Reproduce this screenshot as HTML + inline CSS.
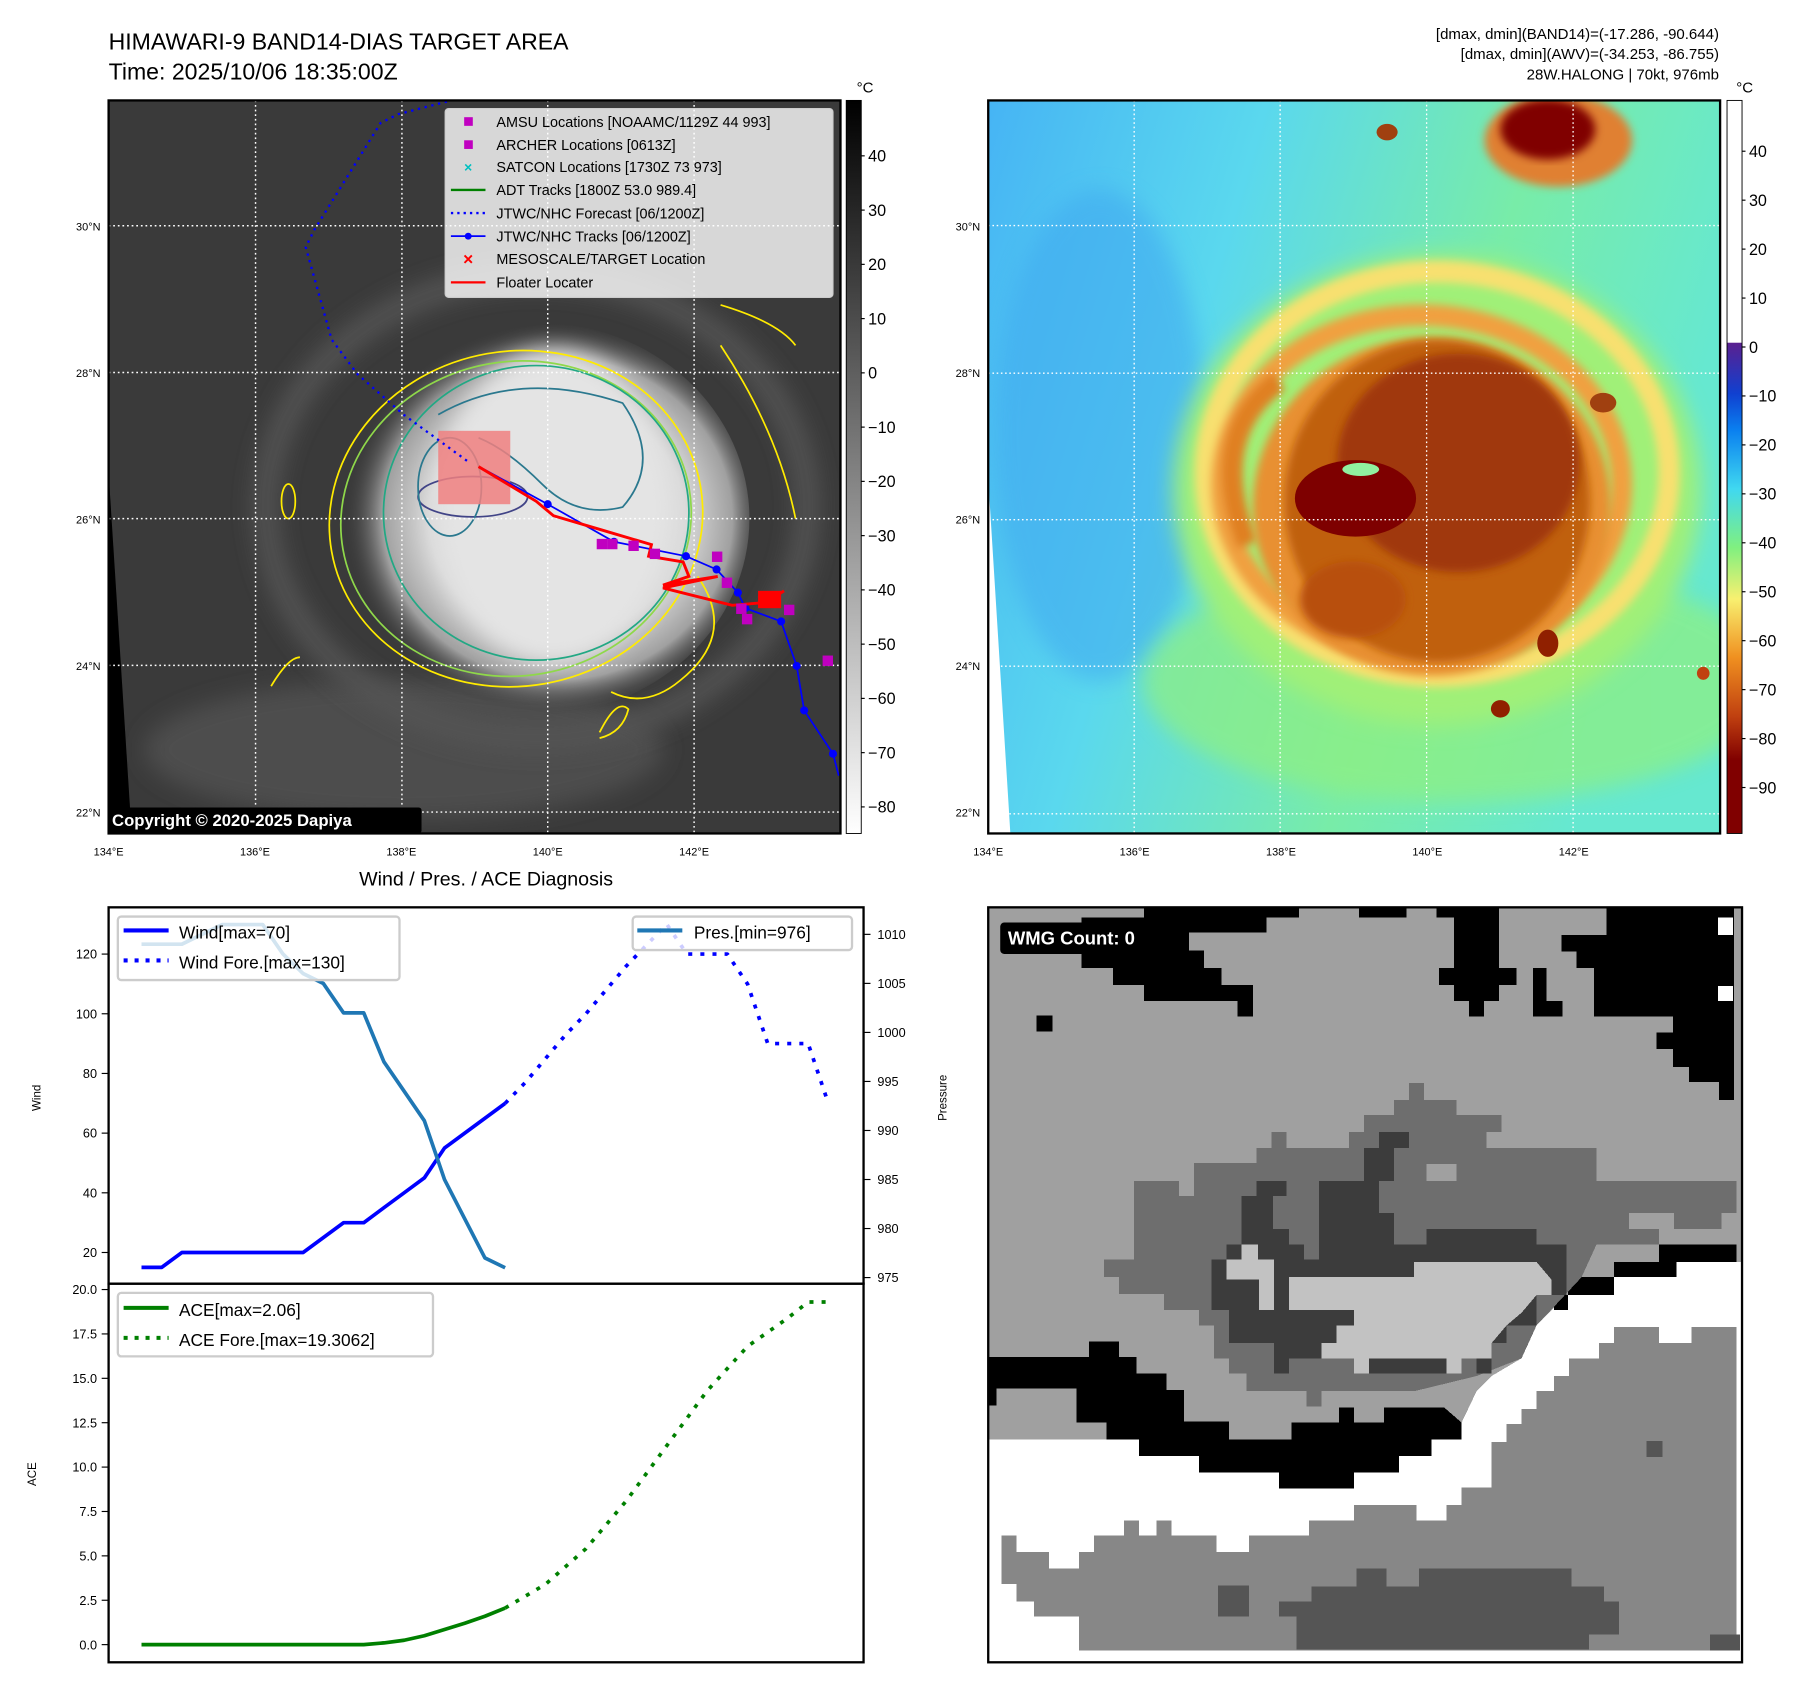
<!DOCTYPE html>
<html><head><meta charset="utf-8"><title>HIMAWARI-9 Diagnosis</title>
<style>
html,body{margin:0;padding:0;background:#fff;}
svg{display:block;font-family:"Liberation Sans","DejaVu Sans",sans-serif;}
</style></head>
<body>
<svg id="root" width="1801" height="1690" viewBox="0 0 1560 1464" xmlns="http://www.w3.org/2000/svg">
<defs>
  <radialGradient id="stormGray" cx="0.55" cy="0.5" r="0.5">
    <stop offset="0" stop-color="#efefef"/><stop offset="0.6" stop-color="#dadada"/><stop offset="0.82" stop-color="#a0a0a0"/><stop offset="1" stop-color="#3c3c3c" stop-opacity="0"/>
  </radialGradient>
  <linearGradient id="bgRight" x1="0" y1="0" x2="1" y2="0.3">
    <stop offset="0" stop-color="#46b4f4"/><stop offset="0.35" stop-color="#5ad8ee"/><stop offset="0.7" stop-color="#78eca8"/><stop offset="1" stop-color="#66e8d0"/>
  </linearGradient>
  <linearGradient id="cbLeft" x1="0" y1="0" x2="0" y2="1">
    <stop offset="0" stop-color="#000"/><stop offset="1" stop-color="#fff"/>
  </linearGradient>
  <linearGradient id="cbRight" x1="0" y1="0" x2="0" y2="1">
    <stop offset="0" stop-color="#fff"/><stop offset="0.33" stop-color="#fff"/>
    <stop offset="0.331" stop-color="#5a2090"/><stop offset="0.4" stop-color="#1040d0"/><stop offset="0.45" stop-color="#0a80f0"/>
    <stop offset="0.53" stop-color="#40d8f0"/><stop offset="0.61" stop-color="#80f080"/><stop offset="0.68" stop-color="#f8f070"/>
    <stop offset="0.76" stop-color="#f09020"/><stop offset="0.84" stop-color="#c04010"/><stop offset="0.9" stop-color="#800000"/><stop offset="1" stop-color="#800000"/>
  </linearGradient>
  <filter id="blur8"><feGaussianBlur stdDeviation="8"/></filter>
  <filter id="blur20"><feGaussianBlur stdDeviation="20"/></filter>
</defs>

<text x="94" y="43" font-size="20">HIMAWARI-9 BAND14-DIAS TARGET AREA</text>
<text x="94" y="69" font-size="20">Time: 2025/10/06 18:35:00Z</text>
<g font-size="13" text-anchor="end">
  <text x="1489" y="34">[dmax, dmin](BAND14)=(-17.286, -90.644)</text>
  <text x="1489" y="51">[dmax, dmin](AWV)=(-34.253, -86.755)</text>
  <text x="1489" y="69">28W.HALONG | 70kt, 976mb</text>
</g>

<!-- LEFT MAP -->
<svg x="94" y="87" width="634" height="635" viewBox="188 176 1270 1269" preserveAspectRatio="none">
  <rect x="188" y="176" width="1270" height="1269" fill="#3a3a3a"/>
  <ellipse cx="700" cy="1300" rx="450" ry="120" fill="#4e4e4e" filter="url(#blur20)"/>
  <g fill="none" stroke="#555" stroke-width="40" filter="url(#blur20)">
    <ellipse cx="930" cy="880" rx="470" ry="400"/>
  </g>
  <ellipse cx="930" cy="900" rx="370" ry="340" fill="url(#stormGray)"/>
  <ellipse cx="960" cy="880" rx="200" ry="270" fill="#e4e4e4" filter="url(#blur20)"/>
  <polygon points="188,820 188,1445 228,1445" fill="#000"/>
  <g fill="none" stroke-width="3">
    <ellipse cx="895" cy="900" rx="325" ry="290" stroke="#ffeb00" transform="rotate(-10 895 900)"/>
    <ellipse cx="895" cy="900" rx="305" ry="272" stroke="#8fd84a" transform="rotate(-10 895 900)"/>
    <ellipse cx="930" cy="890" rx="265" ry="255" stroke="#22a884"/>
    <path d="M760,720 Q900,640 1080,700 Q1150,800 1080,880 Q1000,900 940,840 Q880,780 830,760" stroke="#2a788e"/>
    <ellipse cx="820" cy="862" rx="95" ry="35" stroke="#414487"/>
    <ellipse cx="780" cy="845" rx="55" ry="85" stroke="#2a788e"/>
    <path d="M1210,1000 Q1280,1100 1180,1180 Q1120,1230 1060,1200" stroke="#ffeb00"/>
    <path d="M1250,530 Q1350,560 1380,600" stroke="#ffeb00"/>
    <path d="M1250,600 Q1350,750 1380,900" stroke="#ffeb00"/>
    <ellipse cx="500" cy="870" rx="12" ry="30" stroke="#ffeb00"/>
    <path d="M470,1190 Q500,1140 520,1140" stroke="#ffeb00"/>
    <path d="M1040,1270 Q1070,1210 1090,1230 Q1080,1270 1040,1280" stroke="#ffeb00"/>
  </g>
  <rect x="760" y="748" width="125" height="127" fill="#f08080" opacity="0.85"/>
  <g stroke="#fff" stroke-width="2.5" stroke-dasharray="3,5">
    <line x1="443" y1="176" x2="443" y2="1445"/><line x1="697" y1="176" x2="697" y2="1445"/>
    <line x1="950" y1="176" x2="950" y2="1445"/><line x1="1204" y1="176" x2="1204" y2="1445"/>
    <line x1="188" y1="393" x2="1458" y2="393"/><line x1="188" y1="647" x2="1458" y2="647"/>
    <line x1="188" y1="900" x2="1458" y2="900"/><line x1="188" y1="1154" x2="1458" y2="1154"/>
    <line x1="188" y1="1408" x2="1458" y2="1408"/>
  </g>
  <polyline points="775,178 690,200 660,215 545,400 530,430 575,590 620,650 700,720 810,800" fill="none" stroke="#0000ff" stroke-width="4" stroke-dasharray="4,8"/>
  <polyline points="1455,1345 1445,1307 1395,1232 1382,1155 1355,1078 1293,1055 1280,1028 1243,988 1190,965 1065,940 950,875 840,815" fill="none" stroke="#0000ff" stroke-width="3"/>
  <g fill="#0000ff"><circle cx="1445" cy="1307" r="7"/><circle cx="1395" cy="1232" r="7"/><circle cx="1382" cy="1155" r="7"/><circle cx="1355" cy="1078" r="7"/><circle cx="1293" cy="1055" r="7"/><circle cx="1280" cy="1028" r="7"/><circle cx="1243" cy="988" r="7"/><circle cx="1190" cy="965" r="7"/><circle cx="1065" cy="940" r="7"/><circle cx="950" cy="875" r="7"/></g>
  <polyline points="830,810 930,870 960,895 1045,920 1130,945 1125,965 1185,975 1195,1000 1150,1015 1245,1000 1150,1020 1270,1050 1330,1045 1360,1025" fill="none" stroke="#ff0000" stroke-width="5"/>
  <rect x="1315" y="1025" width="40" height="30" fill="#ff0000"/>
  <g fill="#c000c0">
    <rect x="1035" y="935" width="18" height="18"/><rect x="1053" y="935" width="18" height="18"/><rect x="1090" y="938" width="18" height="18"/><rect x="1127" y="952" width="18" height="18"/><rect x="1235" y="957" width="18" height="18"/><rect x="1252" y="1002" width="18" height="18"/><rect x="1277" y="1047" width="18" height="18"/><rect x="1287" y="1065" width="18" height="18"/><rect x="1360" y="1049" width="18" height="18"/><rect x="1427" y="1137" width="18" height="18"/>
  </g>
  <rect x="772" y="190" width="673" height="327" rx="6" fill="#ffffff" fill-opacity="0.8" stroke="#ccc" stroke-width="2"/>
  <g font-size="25" fill="#000">
    <rect x="805" y="205" width="15" height="15" fill="#c000c0"/><text x="861" y="222">AMSU Locations [NOAAMC/1129Z 44 993]</text>
    <rect x="805" y="245" width="15" height="15" fill="#c000c0"/><text x="861" y="262">ARCHER Locations [0613Z]</text>
    <text x="812" y="300" fill="#00c0c0" text-anchor="middle" font-size="24" font-weight="bold">×</text><text x="861" y="300">SATCON Locations [1730Z 73 973]</text>
    <line x1="782" y1="331" x2="842" y2="331" stroke="#008000" stroke-width="4"/><text x="861" y="340">ADT Tracks [1800Z 53.0 989.4]</text>
    <line x1="782" y1="371" x2="842" y2="371" stroke="#0000ff" stroke-width="4" stroke-dasharray="4,7"/><text x="861" y="380">JTWC/NHC Forecast [06/1200Z]</text>
    <line x1="782" y1="411" x2="842" y2="411" stroke="#0000ff" stroke-width="3"/><circle cx="812" cy="411" r="6" fill="#0000ff"/><text x="861" y="420">JTWC/NHC Tracks [06/1200Z]</text>
    <text x="812" y="461" fill="#ff0000" text-anchor="middle" font-size="30" font-weight="bold">×</text><text x="861" y="459">MESOSCALE/TARGET Location</text>
    <line x1="782" y1="491" x2="842" y2="491" stroke="#ff0000" stroke-width="4"/><text x="861" y="500">Floater Locater</text>
  </g>
  <rect x="186" y="1400" width="545" height="45" rx="5" fill="#000"/>
  <text x="194" y="1432" font-size="29" font-weight="bold" fill="#fff">Copyright © 2020-2025 Dapiya</text>
</svg>
<rect x="94" y="87" width="634" height="635" fill="none" stroke="#000" stroke-width="2"/>
<rect x="733" y="87" width="13" height="635" fill="url(#cbLeft)" stroke="#000" stroke-width="0.8"/>
<text x="742" y="80" font-size="13">°C</text>
<g id="cbLeftTicks" font-size="14"></g>

<!-- RIGHT MAP -->
<svg x="856" y="87" width="634" height="635" viewBox="8 187 1389 1341" preserveAspectRatio="none">
  <rect x="8" y="187" width="1389" height="1341" fill="url(#bgRight)"/>
  <ellipse cx="220" cy="800" rx="200" ry="450" fill="#40a8f0" filter="url(#blur20)" opacity="0.55"/>
  <ellipse cx="900" cy="1250" rx="600" ry="220" fill="#90f080" filter="url(#blur20)" opacity="0.7"/>
  <ellipse cx="860" cy="900" rx="500" ry="430" fill="#a0f078" filter="url(#blur20)"/>
  <g fill="none" stroke-width="40" filter="url(#blur8)">
    <ellipse cx="860" cy="870" rx="440" ry="370" stroke="#f8e070"/>
    <ellipse cx="830" cy="890" rx="380" ry="310" stroke="#f0a040"/>
    <path d="M500,1000 Q420,800 560,700" stroke="#e08020"/>
  </g>
  <ellipse cx="850" cy="930" rx="340" ry="310" fill="#e89030" filter="url(#blur8)"/>
  <ellipse cx="860" cy="920" rx="290" ry="295" fill="#c06010" filter="url(#blur8)"/>
  <ellipse cx="900" cy="850" rx="230" ry="200" fill="#a03808" filter="url(#blur8)"/>
  <ellipse cx="700" cy="1100" rx="100" ry="70" fill="#b85010" filter="url(#blur8)"/>
  <ellipse cx="705" cy="915" rx="115" ry="70" fill="#7e0000"/>
  <ellipse cx="715" cy="862" rx="35" ry="12" fill="#90f0a0"/>
  <ellipse cx="1090" cy="260" rx="140" ry="85" fill="#e08030" filter="url(#blur8)"/>
  <ellipse cx="1070" cy="240" rx="90" ry="55" fill="#800000" filter="url(#blur8)"/>
  <ellipse cx="1175" cy="740" rx="25" ry="18" fill="#a04010"/>
  <ellipse cx="1070" cy="1180" rx="20" ry="25" fill="#902000"/>
  <ellipse cx="980" cy="1300" rx="18" ry="16" fill="#902000"/>
  <ellipse cx="765" cy="245" rx="20" ry="15" fill="#a04010"/>
  <ellipse cx="1365" cy="1235" rx="12" ry="12" fill="#c04010"/>
  <polygon points="8,880 8,1528 50,1528" fill="#fff"/>
  <g stroke="#fff" stroke-width="2.5" stroke-dasharray="3,5">
    <line x1="285" y1="187" x2="285" y2="1528"/><line x1="562" y1="187" x2="562" y2="1528"/>
    <line x1="840" y1="187" x2="840" y2="1528"/><line x1="1118" y1="187" x2="1118" y2="1528"/>
    <line x1="8" y1="416" x2="1397" y2="416"/><line x1="8" y1="686" x2="1397" y2="686"/>
    <line x1="8" y1="954" x2="1397" y2="954"/><line x1="8" y1="1222" x2="1397" y2="1222"/>
    <line x1="8" y1="1492" x2="1397" y2="1492"/>
  </g>
</svg>
<rect x="856" y="87" width="634" height="635" fill="none" stroke="#000" stroke-width="2"/>
<rect x="1496" y="87" width="13" height="635" fill="url(#cbRight)" stroke="#000" stroke-width="0.8"/>
<text x="1504" y="80" font-size="13">°C</text>
<g id="cbRightTicks" font-size="14"></g>

<g id="mapLabels" font-size="9.5"></g>

<text x="421" y="767" font-size="17" text-anchor="middle">Wind / Pres. / ACE Diagnosis</text>
<g id="chart"></g>
<rect x="94" y="786" width="654" height="326" fill="none" stroke="#000" stroke-width="2"/>
<rect x="94" y="1112" width="654" height="328" fill="none" stroke="#000" stroke-width="2"/>
<text transform="translate(35,951) rotate(-90)" font-size="10" text-anchor="middle">Wind</text>
<text transform="translate(820,951) rotate(-90)" font-size="10" text-anchor="middle">Pressure</text>
<text transform="translate(31,1277) rotate(-90)" font-size="10" text-anchor="middle">ACE</text>

<g>
  <rect x="102" y="794" width="244" height="55" rx="3" fill="#fff" fill-opacity="0.8" stroke="#ccc" stroke-width="2"/>
  <line x1="107" y1="806" x2="146" y2="806" stroke="#0000ff" stroke-width="3.5"/>
  <line x1="107" y1="832" x2="146" y2="832" stroke="#0000ff" stroke-width="3.5" stroke-dasharray="3.5,6"/>
  <text x="155" y="813" font-size="15">Wind[max=70]</text>
  <text x="155" y="839" font-size="15">Wind Fore.[max=130]</text>
</g>
<g>
  <rect x="548" y="794" width="190" height="29" rx="3" fill="#fff" fill-opacity="0.8" stroke="#ccc" stroke-width="2"/>
  <line x1="552" y1="806" x2="591" y2="806" stroke="#1f77b4" stroke-width="3.5"/>
  <text x="601" y="813" font-size="15">Pres.[min=976]</text>
</g>
<g>
  <rect x="102" y="1120" width="273" height="55" rx="3" fill="#fff" fill-opacity="0.8" stroke="#ccc" stroke-width="2"/>
  <line x1="107" y1="1133" x2="146" y2="1133" stroke="#008000" stroke-width="3.5"/>
  <line x1="107" y1="1159" x2="146" y2="1159" stroke="#008000" stroke-width="3.5" stroke-dasharray="3.5,6"/>
  <text x="155" y="1140" font-size="15">ACE[max=2.06]</text>
  <text x="155" y="1166" font-size="15">ACE Fore.[max=19.3062]</text>
</g>

<!-- BOTTOM RIGHT WMG -->
<svg x="856" y="786" width="653" height="654" viewBox="8 25 1508 1490" preserveAspectRatio="none" shape-rendering="crispEdges">
  <rect x="8" y="25" width="1508" height="1490" fill="#a0a0a0"/>
  <polygon fill="#fff" points="8,1008 8,1515 1516,1515 1516,725 1380,725 1350,755 1260,755 1230,790 1165,790 1105,850 1075,915 1015,950 985,980 955,1042 955,1075 8,1075"/>
  <polygon fill="#000" points="8,912 210,912 210,882 270,882 270,912 305,912 305,945 365,945 365,978 400,978 400,1040 490,1040 490,1075 615,1075 615,1042 710,1042 710,1012 740,1012 740,1042 800,1042 800,1012 920,1012 955,1042 955,1075 895,1075 895,1108 830,1108 830,1140 740,1140 740,1172 590,1172 590,1140 430,1140 430,1108 310,1108 310,1075 245,1075 245,1042 185,1042 185,975 25,975 25,1008 8,1008"/>
  <polygon fill="#000" points="1260,725 1350,725 1350,690 1505,690 1505,725 1385,725 1385,755 1260,755 1260,790 1168,790 1168,820 1140,820 1140,790 1168,790 1168,755 1260,755"/>
  <polygon fill="#000" points="320,25 630,25 630,45 565,45 565,75 410,75 410,110 440,110 440,145 475,145 475,178 538,178 538,240 507,240 507,210 320,210 320,178 258,178 258,145 195,145 195,45 320,45"/>
  <polygon fill="#000" points="750,25 845,25 845,45 750,45"/>
  <polygon fill="#000" points="905,25 1030,25 1030,145 1065,145 1065,178 1030,178 1030,210 1000,210 1000,240 970,240 970,210 940,210 940,178 910,178 910,145 940,145 940,45 905,45"/>
  <polygon fill="#000" points="1245,25 1500,25 1500,405 1470,405 1470,370 1410,370 1410,340 1378,340 1378,305 1345,305 1345,272 1378,272 1378,240 1220,240 1220,145 1185,145 1185,112 1155,112 1155,80 1245,80"/>
  <polygon fill="#000" points="1098,145 1125,145 1125,210 1157,210 1157,240 1098,240"/>
  <rect x="105" y="238" width="32" height="32" fill="#000"/>
  <rect x="1468" y="45" width="30" height="35" fill="#fff"/><rect x="1468" y="180" width="30" height="30" fill="#fff"/>
  <polygon fill="#6e6e6e" points="240,720 300,720 300,565 390,565 390,595 420,595 420,530 545,530 545,500 575,500 575,468 605,468 605,500 730,500 730,468 760,468 760,435 820,435 820,405 850,405 850,372 880,372 880,405 945,405 945,435 1035,435 1035,468 1005,468 1005,500 1225,500 1225,565 1505,565 1505,628 1475,628 1475,660 1350,660 1350,690 1225,690 1195,755 1105,850 1075,915 985,950 860,980 675,980 675,1010 645,1010 645,980 525,980 525,945 490,945 490,915 460,915 460,850 430,850 430,820 360,820 360,788 270,788 270,755 240,755"/>
  <polygon fill="#a0a0a0" points="885,532 945,532 945,565 885,565"/>
  <polygon fill="#a0a0a0" points="1290,628 1380,628 1380,660 1290,660"/>
  <polygon fill="#3c3c3c" points="485,690 515,690 515,595 545,595 545,565 605,565 605,595 578,595 578,660 610,660 610,690 640,690 640,720 670,720 670,565 760,565 760,500 790,500 790,468 850,468 850,500 820,500 820,565 790,565 790,628 820,628 820,690 885,690 885,660 1105,660 1105,690 1165,690 1165,790 1105,790 1105,850 1045,850 1045,885 1015,885 1015,945 985,945 985,915 955,915 955,945 770,945 770,915 610,915 610,945 580,945 580,885 490,885 490,820 455,820 455,720 485,720"/>
  <polygon fill="#c2c2c2" points="735,755 860,755 860,725 1105,725 1135,760 1135,790 1105,790 1075,825 1045,850 1015,885 1015,915 955,915 955,945 925,945 925,915 770,915 770,945 740,945 740,915 675,915 675,885 705,885 705,850 740,850 740,820 610,820 610,755"/>
  <polygon fill="#c2c2c2" points="485,720 515,720 515,690 548,690 548,720 580,720 580,820 550,820 550,760 485,760"/>
  <polygon fill="#878787" points="35,1265 65,1265 65,1297 130,1297 130,1330 190,1330 190,1297 220,1297 220,1265 280,1265 280,1235 310,1235 310,1265 345,1265 345,1235 375,1235 375,1265 465,1265 465,1297 530,1297 530,1265 650,1265 650,1235 740,1235 740,1205 865,1205 865,1235 925,1235 925,1205 955,1205 955,1170 1015,1170 1015,1080 1045,1080 1045,1045 1075,1045 1075,1015 1105,1015 1105,980 1140,980 1140,950 1170,950 1170,915 1230,915 1230,885 1260,885 1260,853 1350,853 1350,885 1415,885 1415,853 1505,853 1505,1492 190,1492 190,1425 100,1425 100,1395 65,1395 65,1360 35,1360"/>
  <polygon fill="#555" points="590,1395 655,1395 655,1365 745,1365 745,1330 805,1330 805,1365 870,1365 870,1330 1175,1330 1175,1365 1240,1365 1240,1395 1270,1395 1270,1460 1210,1460 1210,1490 625,1490 625,1425 590,1425"/>
  <rect x="468" y="1363" width="62" height="62" fill="#555"/>
  <rect x="1325" y="1078" width="32" height="32" fill="#555"/>
  <rect x="1452" y="1460" width="60" height="32" fill="#555"/>
  <rect x="32" y="55" width="350" height="62" rx="8" fill="#000" shape-rendering="auto"/>
</svg>
<text x="873" y="818" font-size="16" font-weight="bold" fill="#fff">WMG Count: 0</text>
<rect x="856" y="786" width="653" height="654" fill="none" stroke="#000" stroke-width="2"/>
</svg>

<script>
var windIdx = [0,1,2,3,4,5,6,7,8,9,10,11,12,13,14,15,16,17,18];
var windVals = [15,15,20,20,20,20,20,20,20,25,30,30,35,40,45,55,60,65,70];
var windForeIdx = [18,19,20,21,22,23,24,25,26,27,28,29,30,31,32,33,34];
var windForeVals = [70,77,85,93,100,108,116,123,130,120,120,120,110,90,90,90,70];
var presIdx = [0,1,2,3,4,5,6,7,8,9,10,11,12,13,14,15,16,17,18];
var presVals = [1009,1009,1009,1010,1011,1011,1011,1008,1006,1005,1002,1002,997,994,991,985,981,977,976];
var aceIdx = [0,1,2,3,4,5,6,7,8,9,10,11,12,13,14,15,16,17,18];
var aceVals = [0,0,0,0,0,0,0,0,0,0,0,0,0.1,0.25,0.5,0.85,1.2,1.6,2.06];
var aceForeIdx = [18,20,22,24,26,28,30,32,33,34];
var aceForeVals = [2.06,3.4,5.4,8.1,11.2,14.3,16.8,18.4,19.3,19.3];
var windTicks = [20,40,60,80,100,120];
var presTicks = [975,980,985,990,995,1000,1005,1010];
var aceTicks = [0,2.5,5,7.5,10,12.5,15,17.5,20];
var cbLeftTicks = [40,30,20,10,0,-10,-20,-30,-40,-50,-60,-70,-80];
var cbRightTicks = [40,30,20,10,0,-10,-20,-30,-40,-50,-60,-70,-80,-90];
var lonTicks = [134,136,138,140,142];
var latTicks = [30,28,26,24,22];

var NS = "http://www.w3.org/2000/svg";
function xIdx(i){ return 122.5 + 17.5*i; }
function yWind(w){ return 826.5 + (120-w)*2.585; }
function yPres(p){ return 809.4 + (1010-p)*8.495; }
function yAce(a){ return 1424.7 - a*15.38; }
function yCbL(v){ return 135 + (40-v)*4.7; }
function yCbR(v){ return 131 + (40-v)*4.24; }
function xLonL(l){ return 94 + (l-134)*63.4; }
function xLonR(l){ return 856 + (l-134)*63.4; }
function yLat(l){ return 196 + (30-l)*63.5; }

function mk(tag, attrs, parent){
  var e = document.createElementNS(NS, tag);
  for (var k in attrs) e.setAttribute(k, attrs[k]);
  parent.appendChild(e); return e;
}
function fmt(v){ return v < 0 ? "\u2212" + Math.abs(v) : String(v); }

var chart = document.getElementById("chart");
function line(xs, ys, yf, color, dash, name){
  var pts = xs.map(function(x,k){ return xIdx(x).toFixed(1)+","+yf(ys[k]).toFixed(1); }).join(" ");
  var el = mk("polyline", {points: pts, fill: "none", stroke: color, "stroke-width": 3.2, "stroke-linejoin":"round"}, chart);
  if (dash) el.setAttribute("stroke-dasharray", dash);
  
  
}
line(windIdx, windVals, yWind, "#0000ff", null, "wind-line");
line(windForeIdx, windForeVals, yWind, "#0000ff", "3.5,7", "wind-forecast-line");
line(presIdx, presVals, yPres, "#1f77b4", null, "pressure-line");
line(aceIdx, aceVals, yAce, "#008000", null, "ace-line");
line(aceForeIdx, aceForeVals, yAce, "#008000", "3.5,7", "ace-forecast-line");

windTicks.forEach(function(v){
  var y = yWind(v);
  mk("line", {x1: 88, y1: y, x2: 94, y2: y, stroke: "#000"}, chart);
  var t = mk("text", {x: 84, y: y+4, "font-size": 11, "text-anchor": "end"}, chart);
  t.textContent = v;
  
  
});
presTicks.forEach(function(v){
  var y = yPres(v);
  mk("line", {x1: 748, y1: y, x2: 754, y2: y, stroke: "#000"}, chart);
  var t = mk("text", {x: 760, y: y+4, "font-size": 11}, chart);
  t.textContent = v;
  
  
});
aceTicks.forEach(function(v){
  var y = yAce(v);
  mk("line", {x1: 88, y1: y, x2: 94, y2: y, stroke: "#000"}, chart);
  var t = mk("text", {x: 84, y: y+4, "font-size": 11, "text-anchor": "end"}, chart);
  t.textContent = v.toFixed(1);
  
  
});

var gL = document.getElementById("cbLeftTicks");
cbLeftTicks.forEach(function(v){
  var y = yCbL(v);
  mk("line", {x1: 746, y1: y, x2: 749, y2: y, stroke: "#000"}, gL);
  var t = mk("text", {x: 752, y: y+5, "font-size": 14}, gL);
  t.textContent = fmt(v);
  
  
});
var gR = document.getElementById("cbRightTicks");
cbRightTicks.forEach(function(v){
  var y = yCbR(v);
  mk("line", {x1: 1509, y1: y, x2: 1512, y2: y, stroke: "#000"}, gR);
  var t = mk("text", {x: 1515, y: y+5, "font-size": 14}, gR);
  t.textContent = fmt(v);
  
  
});

var gM = document.getElementById("mapLabels");
lonTicks.forEach(function(l){
  [xLonL(l), xLonR(l)].forEach(function(x){
    var t = mk("text", {x: x, y: 741, "font-size": 9.5, "text-anchor": "middle"}, gM);
    t.textContent = l + "°E";
    
    
  });
});
latTicks.forEach(function(l){
  [87, 849].forEach(function(x){
    var t = mk("text", {x: x, y: yLat(l)+3.5, "font-size": 9.5, "text-anchor": "end"}, gM);
    t.textContent = l + "°N";
    
    
  });
});
</script>
</body></html>
